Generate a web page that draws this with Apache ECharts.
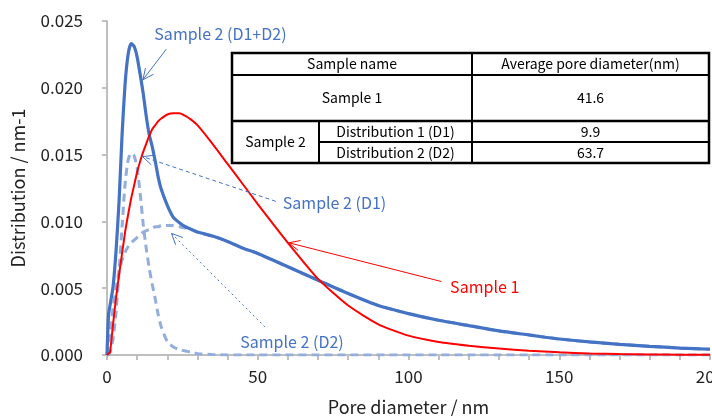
<!DOCTYPE html>
<html>
<head>
<meta charset="utf-8">
<script src="https://cdn.jsdelivr.net/npm/echarts@6/dist/echarts.min.js"></script>
<style>
  html, body { margin: 0; padding: 0; background: #fff; }
  #main { width: 712px; height: 416px; }
</style>
</head>
<body>
<div id="main"></div>
<script>
// pore diameter (nm) and distributions
const poreDiameter = [0, 0.5, 1, 2, 3, 4, 5, 6, 7, 8, 9, 10, 11, 12, 13, 14, 15, 16, 17, 18, 20, 22, 24, 26, 28, 30,
  35, 40, 45, 50, 60, 70, 80, 90, 100, 110, 120, 130, 140, 150, 160, 170, 180, 190, 200];
const sample1 = [0, 0.0001, 0.0002, 0.0023, 0.0043, 0.0060, 0.0076, 0.0092, 0.0105, 0.0117, 0.0127, 0.0137, 0.0145, 0.0152, 0.0158, 0.0164, 0.0169, 0.0172, 0.0175, 0.0177, 0.0180, 0.0181, 0.0181, 0.0179, 0.0176, 0.0172,
  0.0158, 0.0143, 0.0128, 0.0113, 0.0084, 0.0057, 0.0037, 0.0023, 0.00145, 0.00098, 0.0007, 0.00048, 0.00032, 0.0002, 0.00012, 0.00007, 0.00004, 0.00002, 0.00001];
const sample2Total = [0, 0.0030, 0.0037, 0.0051, 0.0078, 0.0115, 0.0165, 0.0203, 0.0225, 0.0233, 0.0231, 0.0223, 0.0210, 0.0196, 0.0179, 0.0165, 0.0156, 0.0145, 0.0133, 0.0124, 0.0112, 0.0103, 0.0099, 0.0096, 0.0094, 0.0092,
  0.0089, 0.0085, 0.0080, 0.0076, 0.0066, 0.0056, 0.0046, 0.0037, 0.0031, 0.0026, 0.0022, 0.0018, 0.0015, 0.0012, 0.00098, 0.0008, 0.00065, 0.00052, 0.00043];
const sample2D1 = [0, 0, 0.0002, 0.0012, 0.0032, 0.0062, 0.0096, 0.0128, 0.0146, 0.0151, 0.0149, 0.0140, 0.0121, 0.0098, 0.0080, 0.0065, 0.0053, 0.0042, 0.0030, 0.0021, 0.0010, 0.0006, 0.0004, 0.0003, 0.0002, 0.0001,
  0.00003, 0, 0, 0, 0, 0, 0, 0, 0, 0, 0, 0, 0, 0, 0, 0, 0, 0, 0];
const sample2D2 = [0, 0.0008, 0.0017, 0.0035, 0.0050, 0.0063, 0.0071, 0.0077, 0.0081, 0.0084, 0.0086, 0.0088, 0.0090, 0.0092, 0.0093, 0.0094, 0.0095, 0.0096, 0.0096, 0.0097, 0.0097, 0.0097, 0.0096, 0.0095, 0.0094, 0.0092,
  0.0089, 0.0085, 0.0080, 0.0076, 0.0066, 0.0056, 0.0046, 0.0037, 0.0031, 0.0026, 0.0022, 0.0018, 0.0015, 0.0012, 0.00098, 0.0008, 0.00065, 0.00052, 0.00043];

// inset table
const tableHeader = ['Sample name', 'Average pore diameter(nm)'];
const tableSamples = ['Sample 1', 'Sample 2'];
const tableDistributions = ['Distribution 1 (D1)', 'Distribution 2 (D2)'];
const tableAverages = ['41.6', '9.9', '63.7'];

// callouts, in data units: [tip, tail, label]
const callouts = [
  { text: 'Sample 2 (D1+D2)', tip: [11.9, 0.0206], tail: [19.7, 0.0229], label: [15.7, 0.0240], color: '#4472c4', dash: null },
  { text: 'Sample 2 (D1)', tip: [11.8, 0.01485], tail: [56, 0.0115], label: [58.3, 0.0114], color: '#4472c4', dash: [4, 3] },
  { text: 'Sample 2 (D2)', tip: [21.4, 0.0091], tail: [52.4, 0.0021], label: [44.2, 0.0010], color: '#4472c4', dash: [2, 3] },
  { text: 'Sample 1', tip: [60.3, 0.0084], tail: [110.9, 0.0055], label: [113.8, 0.0051], color: '#ff0000', dash: null }
];

const FONT = '"Noto Sans CJK JP", "Noto Sans", sans-serif';

function pairs(ys) {
  return poreDiameter.map((x, i) => [x, ys[i]]);
}

let myChart = echarts.init(document.getElementById('main'));

let option = {
  animation: false,
  textStyle: { fontFamily: FONT },
  grid: { left: 107, right: 2, top: 21, bottom: 61, containLabel: false, outerBoundsMode: 'none' },
  xAxis: {
    type: 'value',
    min: 0,
    max: 200,
    interval: 10,
    name: 'Pore diameter / nm',
    nameLocation: 'middle',
    nameGap: 43,
    nameTextStyle: { fontSize: 18, color: '#222', fontFamily: FONT },
    axisLine: { lineStyle: { color: '#bfbfbf', width: 2 } },
    axisTick: { show: true, length: 5, lineStyle: { color: '#bfbfbf', width: 2 } },
    axisLabel: {
      fontSize: 17,
      color: '#222',
      margin: 13,
      fontFamily: FONT,
      hideOverlap: false,
      formatter: v => (v % 50 === 0 ? String(v) : '')
    },
    splitLine: { show: false }
  },
  yAxis: {
    type: 'value',
    min: 0,
    max: 0.025,
    interval: 0.005,
    name: 'Distribution / nm-1',
    nameLocation: 'middle',
    nameGap: 80,
    nameTextStyle: { fontSize: 18, color: '#222', fontFamily: FONT },
    axisLine: { show: true, lineStyle: { color: '#bfbfbf', width: 2 } },
    axisTick: { show: true, length: 5, lineStyle: { color: '#bfbfbf', width: 2 } },
    axisLabel: {
      fontSize: 17,
      color: '#222',
      margin: 24,
      fontFamily: FONT,
      formatter: v => v.toFixed(3)
    },
    splitLine: { show: false }
  },
  series: [
    {
      name: 'Sample 2 (D1)', type: 'line', data: pairs(sample2D1), showSymbol: false,
      smooth: 0.2,
      lineStyle: { color: '#93aedd', width: 3, type: [8, 5] }
    },
    {
      name: 'Sample 2 (D2)', type: 'line', data: pairs(sample2D2), showSymbol: false,
      smooth: 0.2,
      lineStyle: { color: '#93aedd', width: 3, type: [8, 5] }
    },
    {
      name: 'Sample 2 (D1+D2)', type: 'line', data: pairs(sample2Total), showSymbol: false,
      smooth: 0.2,
      lineStyle: { color: '#4472c4', width: 3.2 }
    },
    {
      name: 'Sample 1', type: 'line', data: pairs(sample1), showSymbol: false,
      smooth: 0.2,
      lineStyle: { color: '#ff0000', width: 2 }
    }
  ]
};
myChart.setOption(option);

// table drawn as graphic elements
function tableGraphics() {
  const L = 232, R = 709, T = 53, B = 163;
  const xMid = 472, xSub = 319;
  const yHead = 75, yS1 = 121, yD1 = 142;
  const line = (x1, y1, x2, y2, w) => ({
    type: 'line', shape: { x1, y1, x2, y2 }, style: { stroke: '#000', lineWidth: w }, z: 10
  });
  const txt = (t, x, y) => ({
    type: 'text', z: 11,
    style: { text: t, x, y, fill: '#000', fontSize: 14, fontFamily: FONT, align: 'center', verticalAlign: 'middle' }
  });
  return [
    { type: 'rect', shape: { x: L, y: T, width: R - L, height: B - T }, style: { fill: '#fff', stroke: '#000', lineWidth: 2.5 }, z: 9 },
    line(L, yHead, R, yHead, 2),
    line(L, yS1, R, yS1, 2.5),
    line(xSub, yD1, R, yD1, 2),
    line(xMid, T, xMid, B, 2),
    line(xSub, yS1, xSub, B, 2),
    txt(tableHeader[0], (L + xMid) / 2, (T + yHead) / 2),
    txt(tableHeader[1], (xMid + R) / 2, (T + yHead) / 2),
    txt(tableSamples[0], (L + xMid) / 2, (yHead + yS1) / 2),
    txt(tableSamples[1], (L + xSub) / 2, (yS1 + B) / 2),
    txt(tableDistributions[0], (xSub + xMid) / 2, (yS1 + yD1) / 2),
    txt(tableDistributions[1], (xSub + xMid) / 2, (yD1 + B) / 2),
    txt(tableAverages[0], (xMid + R) / 2, (yHead + yS1) / 2),
    txt(tableAverages[1], (xMid + R) / 2, (yS1 + yD1) / 2),
    txt(tableAverages[2], (xMid + R) / 2, (yD1 + B) / 2)
  ];
}

function calloutGraphics() {
  const out = [];
  callouts.forEach(c => {
    const tip = myChart.convertToPixel({ gridIndex: 0 }, c.tip);
    const tail = myChart.convertToPixel({ gridIndex: 0 }, c.tail);
    const lab = myChart.convertToPixel({ gridIndex: 0 }, c.label);
    const dx = tip[0] - tail[0], dy = tip[1] - tail[1];
    const len = Math.sqrt(dx * dx + dy * dy);
    const ux = dx / len, uy = dy / len;
    const head = 12, ang = 25 * Math.PI / 180;
    const rot = a => [
      tip[0] - head * (ux * Math.cos(a) - uy * Math.sin(a)),
      tip[1] - head * (ux * Math.sin(a) + uy * Math.cos(a))
    ];
    const style = { stroke: c.color, lineWidth: 1, fill: null };
    if (c.dash) style.lineDash = c.dash;
    out.push({ type: 'polyline', shape: { points: [tail, tip] }, style: style, z: 12 });
    out.push({ type: 'polyline', shape: { points: [rot(ang), tip, rot(-ang)] }, style: { stroke: c.color, lineWidth: 1, fill: null }, z: 12 });
    out.push({
      type: 'text', z: 12,
      style: { text: c.text, x: lab[0], y: lab[1], fill: c.color, fontSize: 16, fontFamily: FONT, align: 'left', verticalAlign: 'middle' }
    });
  });
  return out;
}

myChart.setOption({ graphic: tableGraphics().concat(calloutGraphics()) });
window.onresize = myChart.resize;
</script>
</body>
</html>
